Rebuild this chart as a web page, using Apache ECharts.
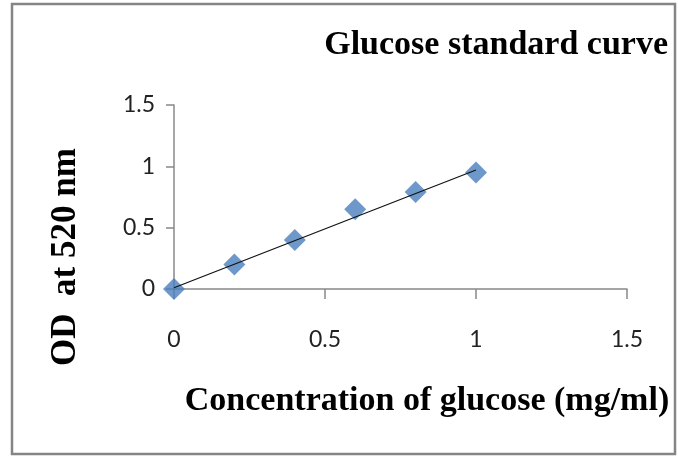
<!DOCTYPE html>
<html>
<head>
<meta charset="utf-8">
<script src="https://cdn.jsdelivr.net/npm/echarts@6/dist/echarts.min.js"></script>
<style>
  html, body { margin: 0; padding: 0; background: #fff; }
  #chart { width: 678px; height: 456px; }
</style>
</head>
<body>
<div id="chart"></div>
<script>
// glucose standard: concentration (mg/ml) vs OD at 520 nm
const concentration = [0, 0.2, 0.4, 0.6, 0.8, 1.0];
const odValues = [0, 0.2, 0.4, 0.65, 0.79, 0.95];
// linear trendline as drawn (end points)
const trendX = [0, 1.0];
const trendY = [0.01, 0.97];
const axisTicks = [0, 0.5, 1, 1.5];

const myChart = echarts.init(document.getElementById("chart"));

const labelFont = "Lato, 'Liberation Sans', sans-serif";
const titleFont = "'Liberation Serif', 'Times New Roman', serif";

const option = {
  animation: false,
  backgroundColor: "#fff",
  grid: {
    left: 174,
    right: 51,
    top: 105,
    bottom: 167,
    outerBoundsMode: "none",
  },
  xAxis: {
    type: "value",
    min: axisTicks[0],
    max: axisTicks[axisTicks.length - 1],
    interval: 0.5,
    axisLine: { lineStyle: { color: "#888", width: 1.5 } },
    axisTick: { show: true, length: 10, lineStyle: { color: "#888", width: 1.5 } },
    axisLabel: {
      margin: 39,
      color: "#222",
      fontSize: 23,
      fontFamily: labelFont,
    },
    splitLine: { show: false },
  },
  yAxis: {
    type: "value",
    min: axisTicks[0],
    max: axisTicks[axisTicks.length - 1],
    interval: 0.5,
    axisLine: { show: true, lineStyle: { color: "#888", width: 1.5 } },
    axisTick: { show: true, length: 8, lineStyle: { color: "#888", width: 1.5 } },
    axisLabel: {
      margin: 19,
      color: "#222",
      fontSize: 23,
      fontFamily: labelFont,
    },
    splitLine: { show: false },
  },
  graphic: [
    {
      type: "rect",
      shape: { x: 12, y: 4, width: 663, height: 450 },
      style: { fill: "none", stroke: "#858585", lineWidth: 2.5 },
      silent: true,
    },
    {
      type: "text",
      x: 668,
      y: 45,
      style: {
        text: "Glucose standard curve",
        font: "bold 34px " + titleFont,
        fill: "#000",
        align: "right",
        verticalAlign: "middle",
      },
    },
    {
      type: "text",
      x: 427,
      y: 401,
      style: {
        text: "Concentration of glucose (mg/ml)",
        font: "bold 34px " + titleFont,
        fill: "#000",
        align: "center",
        verticalAlign: "middle",
      },
    },
    {
      type: "text",
      x: 66,
      y: 257,
      rotation: Math.PI / 2,
      style: {
        text: "OD  at 520 nm",
        font: "bold 35px " + titleFont,
        fill: "#000",
        align: "center",
        verticalAlign: "middle",
      },
    },
  ],
  series: [
    {
      name: "OD",
      type: "scatter",
      symbol: "diamond",
      symbolSize: 22,
      itemStyle: { color: "#4a7ebb" },
      data: concentration.map((c, i) => [c, odValues[i]]),
      z: 2,
    },
    {
      name: "Trend",
      type: "line",
      showSymbol: false,
      symbol: "none",
      lineStyle: { color: "#111", width: 1.2 },
      data: trendX.map((x, i) => [x, trendY[i]]),
      z: 3,
    },
  ],
};

myChart.setOption(option);
window.addEventListener("resize", () => myChart && myChart.resize());
</script>
</body>
</html>
